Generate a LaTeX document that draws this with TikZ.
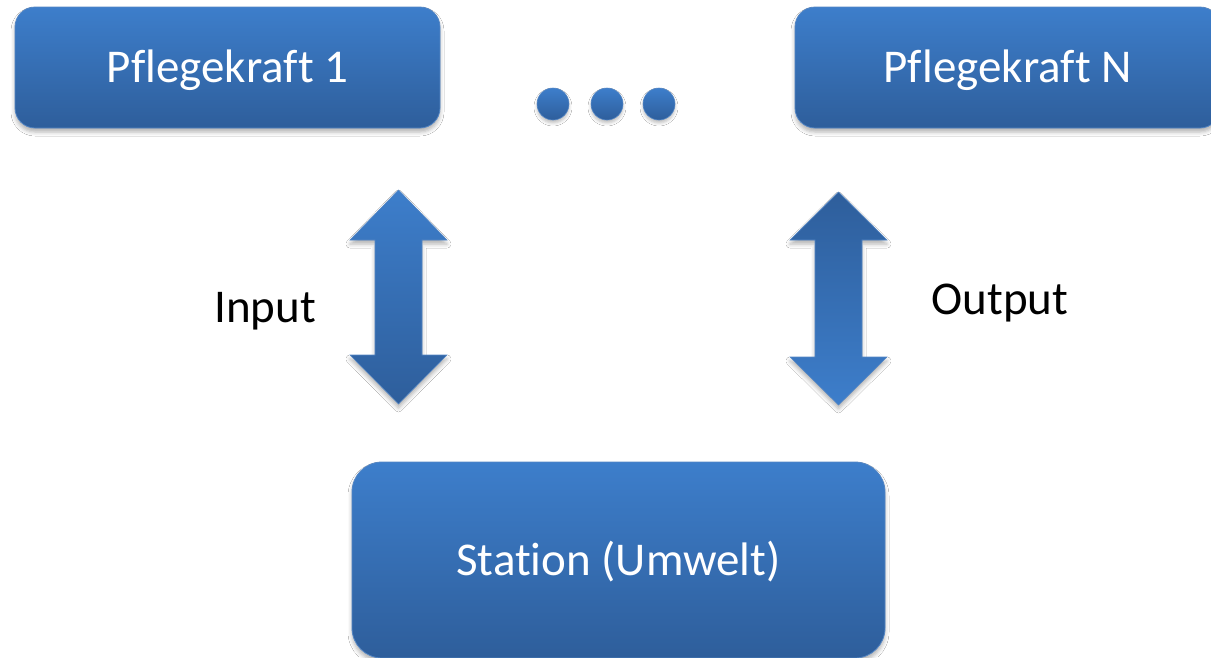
\documentclass[tikz,border=0pt]{standalone}
\usepackage{fontspec}
\setmainfont{Carlito}[Ligatures=NoCommon]
\usetikzlibrary{shadows.blur}
\definecolor{btop}{RGB}{61,126,203}
\definecolor{bbot}{RGB}{46,94,155}
\definecolor{bedge}{RGB}{84,134,196}
\begin{document}
\begin{tikzpicture}[x=1pt,y=-1pt,
  softshadow/.style={blur shadow={shadow xshift=0pt,shadow yshift=-4pt,shadow blur radius=4pt,shadow opacity=30}},
  box/.style={rectangle,rounded corners=20pt,top color=btop,bottom color=bbot,draw=bedge,line width=0.8pt,
    text=white,font=\fontsize{47}{52}\selectfont,softshadow,inner sep=0pt,text height=30pt,text depth=0pt},
  dot/.style={circle,minimum size=32pt,inner sep=0pt,top color=btop,bottom color=bbot,draw=bedge,line width=0.6pt,
    blur shadow={shadow xshift=0pt,shadow yshift=-3pt,shadow blur radius=3pt,shadow opacity=25}},
  lbl/.style={font=\fontsize{47}{52}\selectfont,text=black,inner sep=0pt,text height=30pt,text depth=0pt},
  arrowup/.style={top color=btop,bottom color=bbot,draw=bedge,line width=0.6pt,softshadow},
  arrowdn/.style={top color=bbot,bottom color=btop,draw=bedge,line width=0.6pt,softshadow}]
\useasboundingbox (0,0) rectangle (1211,657);
\fill[white] (0,0) rectangle (1211,657);
\node[box,minimum width=425pt,minimum height=121pt] (p1) at (227.5,67.5) {Pflegekraft 1};
\node[box,minimum width=425pt,minimum height=121pt] (pn) at (1007.5,67.5) {Pflegekraft N};
\node[box,rounded corners=30pt,minimum width=533pt,minimum height=196pt] (st) at (618.5,560) {Station (Umwelt)};
\node[dot] (d1) at (553,104) {};
\node[dot] (d2) at (607,104) {};
\node[dot] (d3) at (659,104) {};
\path[arrowup] (350,240) -- (398.5,190) -- (447,240) -- (422,240) -- (422,355) -- (447,355)
  -- (398.5,404) -- (350,355) -- (375,355) -- (375,240) -- cycle;
\path[arrowdn] (790,240) -- (838.5,192) -- (887,240) -- (862,240) -- (862,357) -- (887,357)
  -- (838.5,405) -- (790,357) -- (815,357) -- (815,240) -- cycle;
\node[lbl] (in) at (265,307) {Input};
\node[lbl] (out) at (1000,299) {Output};
\end{tikzpicture}
\end{document}
